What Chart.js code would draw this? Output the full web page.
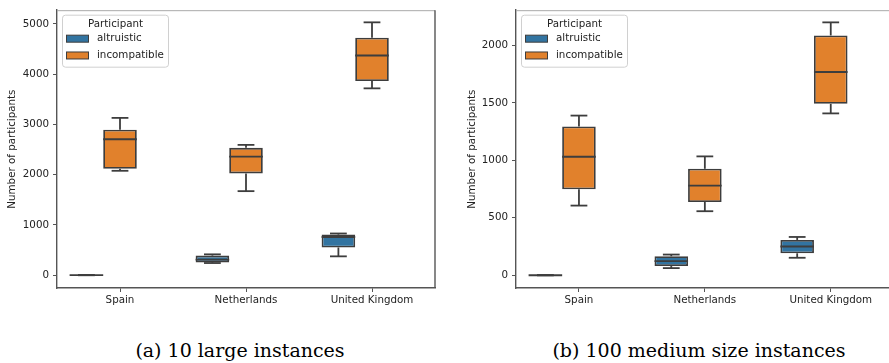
<!DOCTYPE html>
<html>
<head>
<meta charset="utf-8">
<script src="https://cdn.jsdelivr.net/npm/chart.js@4.4.0/dist/chart.umd.min.js"></script>
<style>
html,body{margin:0;padding:0;background:#fff;overflow:hidden;width:889px;height:363px;position:relative}
.wrap{position:absolute;top:0;height:320px}
.cap{position:absolute;top:339px;font-family:"DejaVu Serif",serif;font-size:19px;color:#000;white-space:nowrap;transform:translateX(-50%)}
</style>
</head>
<body>
<div class="wrap" style="left:0;width:445px"><canvas id="chartA"></canvas></div>
<div class="wrap" style="left:445px;width:460px"><canvas id="chartB"></canvas></div>
<div class="cap" style="left:240px">(a) 10 large instances</div>
<div class="cap" style="left:699px">(b) 100 medium size instances</div>
<script>
const countries = ['Spain', 'Netherlands', 'United Kingdom'];
const participants = ['altruistic', 'incompatible'];

// box stats per country: [lower whisker, Q1, median, Q3, upper whisker]
const largeAltruistic = [[0, 0, 0, 0, 0], [242, 255, 310, 390, 415], [375, 552, 760, 808, 830]];
const largeIncompatible = [[2078, 2118, 2706, 2895, 3131], [1673, 2026, 2359, 2535, 2594], [3719, 3863, 4373, 4725, 5033]];
const mediumAltruistic = [[0, 0, 0, 0, 0], [62, 80, 123, 165, 180], [152, 191, 250, 307, 333]];
const mediumIncompatible = [[606, 748, 1031, 1294, 1389], [557, 637, 780, 926, 1034], [1408, 1491, 1768, 2086, 2200]];

const largeTicks = [0, 1000, 2000, 3000, 4000, 5000];
const mediumTicks = [0, 500, 1000, 1500, 2000];

const blue = '#3274a1';
const orange = '#e1812c';
const lineCol = '#3d3d3d';
const axisCol = '#555';
const font = {family: 'DejaVu Sans', size: 10.3};

// whiskers, caps and medians on top of the floating bars
const boxPlot = {
    id: 'boxPlot',
    afterDatasetsDraw(chart) {
        const ctx = chart.ctx, y = chart.scales.y;
        const line = (x1, y1, x2, y2) => {
            ctx.beginPath(); ctx.moveTo(x1, y1); ctx.lineTo(x2, y2); ctx.stroke();
        };
        ctx.save();
        ctx.strokeStyle = lineCol;
        ctx.lineWidth = 1.8;
        chart.data.datasets.forEach((ds, i) => {
            if (!ds.stats) return;
            chart.getDatasetMeta(i).data.forEach((bar, j) => {
                const s = ds.stats[j];
                const half = bar.width / 2, cap = bar.width / 4;
                const lo = y.getPixelForValue(s[0]), q1 = y.getPixelForValue(s[1]);
                const med = y.getPixelForValue(s[2]), q3 = y.getPixelForValue(s[3]);
                const hi = y.getPixelForValue(s[4]);
                line(bar.x, lo, bar.x, q1);
                line(bar.x, q3, bar.x, hi);
                line(bar.x - cap, lo, bar.x + cap, lo);
                line(bar.x - cap, hi, bar.x + cap, hi);
                line(bar.x - half, med, bar.x + half, med);
            });
        });
        ctx.restore();
    }
};

// top and right spines
const frame = {
    id: 'frame',
    afterDraw(chart) {
        const a = chart.chartArea, ctx = chart.ctx;
        ctx.save();
        ctx.strokeStyle = '#aaa';
        ctx.lineWidth = 1;
        ctx.beginPath(); ctx.moveTo(a.left, a.top + 0.5); ctx.lineTo(a.right, a.top + 0.5); ctx.stroke();
        ctx.strokeStyle = axisCol;
        ctx.lineWidth = 1.4;
        ctx.beginPath(); ctx.moveTo(a.right, a.top); ctx.lineTo(a.right, a.bottom); ctx.stroke();
        ctx.restore();
    }
};

// legend box inside the plot, like seaborn's
const boxLegend = {
    id: 'boxLegend',
    afterDraw(chart) {
        const a = chart.chartArea, ctx = chart.ctx;
        const x0 = a.left + 5.5, y0 = a.top + 5, w = 106, h = 52;
        ctx.save();
        ctx.fillStyle = 'rgba(255,255,255,0.8)';
        ctx.strokeStyle = '#d0d0d0';
        ctx.lineWidth = 1;
        ctx.beginPath();
        ctx.roundRect(x0, y0, w, h, 3);
        ctx.fill(); ctx.stroke();
        ctx.font = font.size + 'px ' + font.family;
        ctx.fillStyle = '#222';
        ctx.textBaseline = 'middle';
        ctx.textAlign = 'center';
        ctx.fillText('Participant', x0 + w / 2, y0 + 9.5);
        ctx.textAlign = 'left';
        chart.data.datasets.filter(ds => ds.stats).forEach((ds, k) => {
            const cy = y0 + 23.5 + k * 16.8;
            ctx.fillStyle = ds.backgroundColor;
            ctx.fillRect(x0 + 4, cy - 3.5, 22, 7);
            ctx.strokeStyle = lineCol;
            ctx.strokeRect(x0 + 4, cy - 3.5, 22, 7);
            ctx.fillStyle = '#222';
            ctx.fillText(ds.label, x0 + 34.5, cy);
        });
        ctx.restore();
    }
};

let makeChart = (id, altStats, incStats, tickValues, min, max, padLeft, yWidth, padRight) => {
    return new Chart(document.getElementById(id), {
        type: 'bar',
        data: {
            labels: countries,
            datasets: [
                {label: participants[0], data: altStats.map(s => [s[1], s[3]]), stats: altStats, backgroundColor: blue},
                {label: participants[1], data: incStats.map(s => [s[1], s[3]]), stats: incStats, backgroundColor: orange},
                {label: '', data: countries.map(() => null)} // empty third hue slot
            ]
        },
        options: {
            responsive: true,
            maintainAspectRatio: false,
            animation: false,
            layout: {padding: {top: 6, right: padRight, left: padLeft, bottom: 0}},
            datasets: {
                bar: {categoryPercentage: 0.8, barPercentage: 1, borderWidth: 1.8, borderColor: lineCol, borderSkipped: false}
            },
            plugins: {legend: {display: false}, tooltip: {enabled: false}},
            scales: {
                x: {
                    grid: {drawOnChartArea: false, offset: false, tickLength: 4, color: axisCol},
                    border: {color: axisCol, width: 1.4},
                    ticks: {color: '#222', font: font, padding: 2},
                    afterFit: (s) => { s.height = 32; }
                },
                y: {
                    min: min,
                    max: max,
                    afterBuildTicks: (s) => { s.ticks = tickValues.map(v => ({value: v})); },
                    grid: {drawOnChartArea: false, tickLength: 4, color: axisCol},
                    border: {color: axisCol, width: 1.4},
                    ticks: {color: '#222', font: font, padding: 4, callback: (v) => String(v)},
                    title: {display: true, text: 'Number of participants', color: '#222', font: font, padding: 0},
                    afterFit: (s) => { s.width = yWidth; }
                }
            }
        },
        plugins: [frame, boxPlot, boxLegend]
    });
}

makeChart('chartA', largeAltruistic, largeIncompatible, largeTicks, -255, 5275, 6, 51, 10);
makeChart('chartB', mediumAltruistic, mediumIncompatible, mediumTicks, -111, 2306, 21, 50, 11.3);
</script>
</body>
</html>
